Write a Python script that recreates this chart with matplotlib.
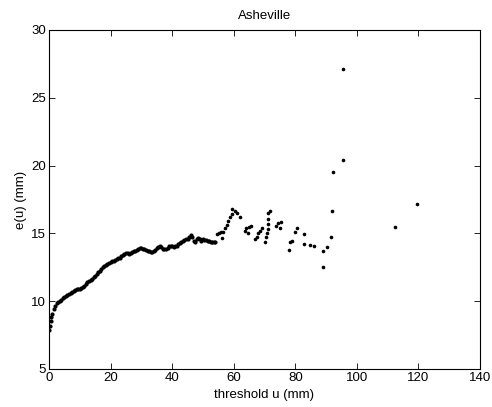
import matplotlib
matplotlib.use("Agg")
import matplotlib.pyplot as plt
import numpy as np

plt.rcParams['font.family'] = ['Liberation Sans', 'DejaVu Sans']

# dense part of the mean residual life curve (threshold u, e(u))
u_dense = [0.0, 0.25, 0.5, 0.75, 1.0, 1.5, 2.0, 2.5, 3.0, 3.5, 4.0, 4.5, 5.0, 5.5,
           6.0, 6.5, 7.0, 7.5, 8.0, 8.5, 9.0, 9.5, 10.0, 10.5, 11.0, 11.5, 12.0,
           12.5, 13.0, 13.5, 14.0, 14.5, 15.0, 15.5, 16.0, 16.5, 17.0, 17.5, 18.0,
           18.5, 19.0, 19.5, 20.0, 20.5, 21.0, 21.5, 22.0, 22.5, 23.0, 23.5, 24.0,
           24.5, 25.0, 25.5, 26.0, 26.5, 27.0, 27.5, 28.0, 28.5, 29.0, 29.5, 30.0,
           30.5, 31.0, 31.5, 32.0, 32.5, 33.0, 33.5, 34.0, 34.5, 35.0, 35.5, 36.0,
           36.5, 37.0, 37.5, 38.0, 38.5, 39.0, 39.5, 40.0, 40.5, 41.0, 41.5, 42.0,
           42.5, 43.0, 43.5, 44.0, 44.5, 45.0, 45.5, 46.0, 46.5, 47.0, 47.5, 48.0,
           48.5, 49.0, 49.5, 50.0, 50.5, 51.0, 51.5, 52.0, 52.5, 53.0, 53.5, 54.0]
e_dense = [7.9, 8.2, 8.55, 8.8, 9.05, 9.4, 9.68, 9.85, 9.96, 10.04, 10.12, 10.2, 10.28, 10.37,
           10.46, 10.54, 10.62, 10.7, 10.76, 10.82, 10.87, 10.9, 10.92, 10.98, 11.06, 11.15, 11.25,
           11.38, 11.47, 11.55, 11.65, 11.75, 11.86, 12.0, 12.13, 12.26, 12.4, 12.53, 12.6,
           12.68, 12.76, 12.8, 12.86, 12.94, 13.0, 13.05, 13.08, 13.16, 13.22, 13.33, 13.44,
           13.5, 13.55, 13.53, 13.5, 13.58, 13.65, 13.7, 13.72, 13.8, 13.88, 13.95, 13.92,
           13.85, 13.85, 13.8, 13.72, 13.68, 13.62, 13.66, 13.7, 13.8, 13.92, 14.02, 14.06,
           13.98, 13.88, 13.85, 13.82, 13.95, 14.08, 14.1, 14.04, 14.02, 14.08, 14.05, 14.2,
           14.3, 14.38, 14.45, 14.5, 14.6, 14.55, 14.75, 14.9, 14.7, 14.45, 14.4, 14.55,
           14.64, 14.6, 14.45, 14.55, 14.52, 14.48, 14.45, 14.42, 14.4, 14.38, 14.35, 14.34]

# sparse upper tail
u_tail = [54.5, 55.2, 55.8, 56.1, 56.6, 57.2, 57.7, 58.2, 58.8, 59.3, 59.6, 60.4, 61.2, 62.0,
          63.6, 64.1, 64.6, 65.1, 65.5, 66.9, 67.5, 68.0, 68.5, 69.1,
          70.2, 70.5, 70.7, 71.0, 71.0, 71.2, 71.2, 71.8, 73.6, 74.3, 75.2, 75.0,
          78.0, 78.3, 78.8, 79.9, 80.7, 82.8, 82.8, 84.8, 86.2,
          88.9, 89.1, 90.4, 91.5, 92.0, 92.3, 95.6, 95.6, 112.5, 119.4]
e_tail = [14.95, 15.0, 15.12, 14.64, 15.12, 15.38, 15.62, 15.95, 16.2, 16.45, 16.8, 16.65, 16.48, 16.23,
          15.2, 15.4, 15.0, 15.5, 15.55, 14.56, 14.76, 15.0, 15.2, 15.38,
          14.39, 14.76, 15.0, 15.3, 15.69, 16.06, 16.48, 16.67, 15.55, 15.74, 15.82, 15.38,
          13.78, 14.39, 14.46, 15.12, 15.42, 14.93, 14.22, 14.14, 14.09,
          12.55, 13.73, 14.02, 14.76, 16.65, 19.53, 20.41, 27.12, 15.45, 17.17]

fig = plt.figure(figsize=(4.92, 4.07), dpi=100)
ax = fig.add_axes([0.0996, 0.0934, 0.876, 0.8329])

ax.plot(u_dense, e_dense, 'o', color='k', ms=3.0, mew=0)
ax.plot(u_tail, e_tail, 'o', color='k', ms=2.6, mew=0)

ax.set_xlim(0, 140)
ax.set_ylim(5, 30)
ax.set_xticks(np.arange(0, 141, 20))
ax.set_yticks(np.arange(5, 31, 5))
ax.tick_params(direction='in', top=True, right=True, length=4, width=0.6, labelsize=9.5, pad=2)
for s in ax.spines.values():
    s.set_linewidth(0.8)

ax.set_title("Asheville", fontsize=9.5, pad=8)
ax.set_xlabel("threshold u (mm)", fontsize=9.5, labelpad=4)
ax.set_ylabel("e(u) (mm)", fontsize=9.5, labelpad=3)

fig.savefig("out.png", dpi=100)
